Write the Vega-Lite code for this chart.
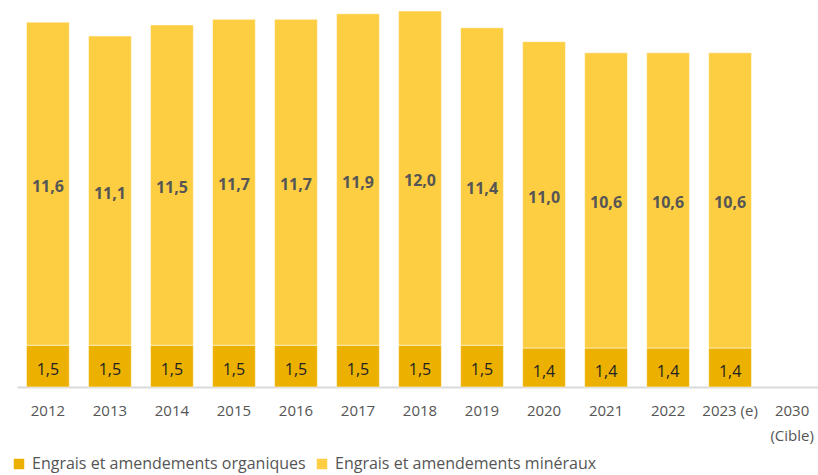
{
  "$schema": "https://vega.github.io/schema/vega-lite/v6.json",
  "autosize": "none",
  "width": 806,
  "height": 376,
  "padding": {"left": 17, "top": 11, "right": 0, "bottom": 88},
  "background": "white",
  "config": {"view": {"stroke": null}, "font": "Open Sans"},
  "data": {"values": [
    {"year": "2012", "type": "Engrais et amendements organiques", "ord": 1, "value": 1.5},
    {"year": "2012", "type": "Engrais et amendements minéraux", "ord": 2, "value": 11.6},
    {"year": "2013", "type": "Engrais et amendements organiques", "ord": 1, "value": 1.5},
    {"year": "2013", "type": "Engrais et amendements minéraux", "ord": 2, "value": 11.1},
    {"year": "2014", "type": "Engrais et amendements organiques", "ord": 1, "value": 1.5},
    {"year": "2014", "type": "Engrais et amendements minéraux", "ord": 2, "value": 11.5},
    {"year": "2015", "type": "Engrais et amendements organiques", "ord": 1, "value": 1.5},
    {"year": "2015", "type": "Engrais et amendements minéraux", "ord": 2, "value": 11.7},
    {"year": "2016", "type": "Engrais et amendements organiques", "ord": 1, "value": 1.5},
    {"year": "2016", "type": "Engrais et amendements minéraux", "ord": 2, "value": 11.7},
    {"year": "2017", "type": "Engrais et amendements organiques", "ord": 1, "value": 1.5},
    {"year": "2017", "type": "Engrais et amendements minéraux", "ord": 2, "value": 11.9},
    {"year": "2018", "type": "Engrais et amendements organiques", "ord": 1, "value": 1.5},
    {"year": "2018", "type": "Engrais et amendements minéraux", "ord": 2, "value": 12.0},
    {"year": "2019", "type": "Engrais et amendements organiques", "ord": 1, "value": 1.5},
    {"year": "2019", "type": "Engrais et amendements minéraux", "ord": 2, "value": 11.4},
    {"year": "2020", "type": "Engrais et amendements organiques", "ord": 1, "value": 1.4},
    {"year": "2020", "type": "Engrais et amendements minéraux", "ord": 2, "value": 11.0},
    {"year": "2021", "type": "Engrais et amendements organiques", "ord": 1, "value": 1.4},
    {"year": "2021", "type": "Engrais et amendements minéraux", "ord": 2, "value": 10.6},
    {"year": "2022", "type": "Engrais et amendements organiques", "ord": 1, "value": 1.4},
    {"year": "2022", "type": "Engrais et amendements minéraux", "ord": 2, "value": 10.6},
    {"year": "2023 (e)", "type": "Engrais et amendements organiques", "ord": 1, "value": 1.4},
    {"year": "2023 (e)", "type": "Engrais et amendements minéraux", "ord": 2, "value": 10.6}
  ]},
  "transform": [
    {"stack": "value", "groupby": ["year"], "sort": [{"field": "ord"}], "as": ["v0", "v1"]},
    {"calculate": "(datum.v0 + datum.v1) / 2", "as": "mid"},
    {"calculate": "replace(format(datum.value, '.1f'), '.', ',')", "as": "label"}
  ],
  "encoding": {
    "x": {
      "field": "year", "type": "nominal",
      "scale": {
        "domain": ["2012","2013","2014","2015","2016","2017","2018","2019","2020","2021","2022","2023 (e)","2030 (Cible)"],
        "paddingInner": 0.31, "paddingOuter": 0.153
      },
      "axis": {
        "title": null, "labelAngle": 0, "ticks": false,
        "domainColor": "#d9d9d9", "domainWidth": 2,
        "labelColor": "#555555", "labelFontSize": 15, "labelPadding": 16,
        "labelExpr": "datum.value == '2030 (Cible)' ? ['2030', '(Cible)'] : datum.value",
        "labelLineHeight": 25
      }
    }
  },
  "layer": [
    {
      "mark": {"type": "bar", "stroke": "#ffffff", "strokeWidth": 1, "strokeOpacity": 0.5},
      "encoding": {
        "y": {"field": "v0", "type": "quantitative", "scale": {"domain": [0, 13.5], "nice": false}, "axis": null},
        "y2": {"field": "v1"},
        "color": {
          "field": "type", "type": "nominal",
          "scale": {"domain": ["Engrais et amendements organiques", "Engrais et amendements minéraux"], "range": ["#ECB100", "#FDCE42"]},
          "legend": {
            "title": null, "orient": "none", "direction": "horizontal",
            "legendX": -6, "legendY": 445, "labelLimit": 400,
            "symbolType": "square", "symbolSize": 110, "symbolStrokeWidth": 0,
            "labelFontSize": 16, "labelColor": "#555555", "columnPadding": 8, "labelOffset": 5
          }
        }
      }
    },
    {
      "transform": [{"filter": "datum.ord == 1"}],
      "mark": {"type": "text", "fontSize": 16, "baseline": "middle", "color": "#222222", "dy": 4},
      "encoding": {
        "y": {"field": "mid", "type": "quantitative", "scale": {"domain": [0, 13.5], "nice": false}},
        "text": {"field": "label"}
      }
    },
    {
      "transform": [{"filter": "datum.ord == 2"}],
      "mark": {"type": "text", "fontSize": 16, "baseline": "middle", "color": "#555555", "fontWeight": "bold", "dy": 3},
      "encoding": {
        "y": {"field": "mid", "type": "quantitative", "scale": {"domain": [0, 13.5], "nice": false}},
        "text": {"field": "label"}
      }
    }
  ]
}
